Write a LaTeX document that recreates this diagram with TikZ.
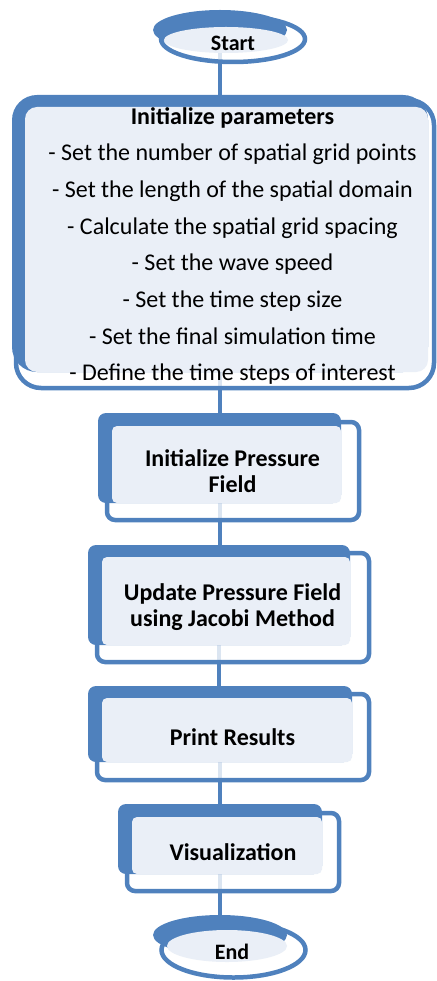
\documentclass[tikz,border=0pt]{standalone}
\usepackage{fontspec}
\setmainfont{Carlito}
\usetikzlibrary{shapes.geometric,fit}
\definecolor{ablue}{HTML}{4F81BD}
\definecolor{alight}{HTML}{EAEFF7}
\pgfdeclarelayer{bg}
\pgfsetlayers{bg,main}
\begin{document}
\begin{tikzpicture}[x=1pt,y=-1pt,
  conn/.style={draw=ablue,line width=4pt},
  outl/.style={draw=ablue,line width=4.5pt,fill=white,fill opacity=0.8,inner sep=0pt,outer sep=0pt},
  fillb/.style={fill=ablue,inner sep=0pt,outer sep=0pt},
  lite/.style={fill=alight,inner sep=0pt,outer sep=0pt},
  bigr/.style={rounded corners=25pt},
  smr/.style={rounded corners=8pt},
  smrl/.style={rounded corners=5pt},
  ttl/.style={inner sep=0pt,align=center,font=\fontsize{24}{26}\selectfont\bfseries},
  term/.style={inner sep=0pt,font=\fontsize{22}{24}\selectfont\bfseries},
  body/.style={inner sep=0pt,align=center,font=\fontsize{24}{36.7}\selectfont}
]
\useasboundingbox (0,0) rectangle (436,981);

% Start
\node[outl, ellipse, minimum width=144pt, minimum height=46pt] (sO) at (233,39) {};
\node[fillb, ellipse, minimum width=134pt, minimum height=40pt] (sF) at (220,30) {};
\node[lite, ellipse, minimum width=124pt, minimum height=26pt] (sL) at (226,40) {};
\node[term] (sT) at (233,43) {Start};

% Box 1
\node[outl, bigr, fit={(16,100) (434,388)}] (b1O) {};
\node[fillb, bigr, fit={(12,95) (428,372)}] (b1F) {};
\node[lite, rounded corners=12pt, fit={(25,107) (428,372)}] (b1L) {};
\node[body] (b1T) at (232.5,246) {\textbf{Initialize parameters}\\
- Set the number of spatial grid points\\
- Set the length of the spatial domain\\
- Calculate the spatial grid spacing\\
- Set the wave speed\\
- Set the time step size\\
- Set the final simulation time\\
- Define the time steps of interest};

% Box 2
\node[outl, smr, fit={(107,422) (359,520)}] (b2O) {};
\node[fillb, smr, fit={(98,413) (341,503)}] (b2F) {};
\node[lite, smrl, fit={(112,426) (341,503)}] (b2L) {};
\node[ttl] (b2T) at (232.5,471) {Initialize Pressure\\Field};

% Box 3
\node[outl, smr, fit={(97,553) (369,662)}] (b3O) {};
\node[fillb, smr, fit={(88,545) (350,645)}] (b3F) {};
\node[lite, smrl, fit={(102,557) (350,645)}] (b3L) {};
\node[ttl] (b3T) at (232.5,607.5) {Update Pressure Field\\using Jacobi Method};

% Box 4
\node[outl, smr, fit={(97,694) (369,780)}] (b4O) {};
\node[fillb, smr, fit={(88,686) (352,762)}] (b4F) {};
\node[lite, smrl, fit={(102,698) (352,762)}] (b4L) {};
\node[ttl] (b4T) at (232.5,737) {Print Results};

% Box 5
\node[outl, smr, fit={(127,813) (339,891)}] (b5O) {};
\node[fillb, smr, fit={(118,804) (322,874)}] (b5F) {};
\node[lite, smrl, fit={(132,817) (322,874)}] (b5L) {};
\node[ttl] (b5T) at (233,852) {Visualization};

% End
\node[outl, ellipse, minimum width=144pt, minimum height=55pt] (eO) at (233.5,950) {};
\node[fillb, ellipse, minimum width=134pt, minimum height=40pt] (eF) at (220,935) {};
\node[lite, ellipse, minimum width=120pt, minimum height=32pt] (eL) at (227,946) {};
\node[term] (eT) at (232,952) {End};

\begin{pgfonlayer}{bg}
\draw[conn] (sF.south) -- (sF.south |- b1F.north);
\draw[conn] (b1F.south) -- (b1F.south |- b2F.north);
\draw[conn] (b2F.south) -- (b2F.south |- b3F.north);
\draw[conn] (b3F.south) -- (b3F.south |- b4F.north);
\draw[conn] (b4F.south) -- (b4F.south |- b5F.north);
\draw[conn] (b5F.south) -- (b5F.south |- eF.north);
\end{pgfonlayer}
\end{tikzpicture}
\end{document}
